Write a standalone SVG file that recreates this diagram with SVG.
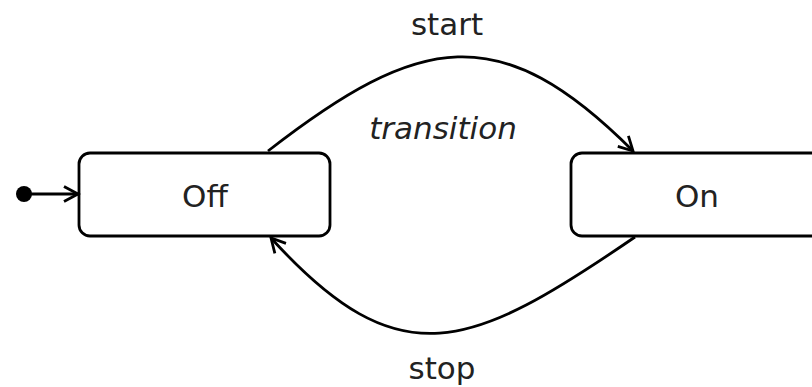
<svg xmlns="http://www.w3.org/2000/svg" width="812" height="387" viewBox="0 0 812 387">
<defs>
<style>
.state{fill:#fff;stroke:#000;stroke-width:2.8}
.edge{fill:none;stroke:#000;stroke-width:2.8}
.lbl{font-family:"DejaVu Sans",Verdana,sans-serif;font-size:31px;fill:#222;text-anchor:middle}
.it{font-style:italic}
</style>
<marker id="arr" viewBox="0 0 20 20" refX="17" refY="10" markerWidth="20" markerHeight="20" markerUnits="userSpaceOnUse" orient="auto">
<path d="M3,2.5 L17,10 L3,17.5" fill="none" stroke="#000" stroke-width="2.8"/>
</marker>
</defs>
<rect width="812" height="387" fill="#fff"/>
<g id="initial"><circle cx="24" cy="194" r="8" fill="#000"/></g>
<g id="off"><rect class="state" x="79" y="153" width="251" height="83" rx="11"/><text class="lbl" x="205" y="207">Off</text></g>
<g id="on"><rect class="state" x="571" y="153" width="260" height="83" rx="11"/><text class="lbl" x="697" y="207">On</text></g>
<g id="connectors">
<path class="edge" d="M31,194 L78,194" marker-end="url(#arr)"/>
<path class="edge" d="M268,151 C420,33 500,18 633,151" marker-end="url(#arr)"/>
<path class="edge" d="M635,237 C470,350 400,380 271,238" marker-end="url(#arr)"/>
</g>
<g id="labels">
<text class="lbl" x="447" y="35">start</text>
<text class="lbl it" x="443" y="139">transition</text>
<text class="lbl" x="442" y="379">stop</text>
</g>
</svg>
